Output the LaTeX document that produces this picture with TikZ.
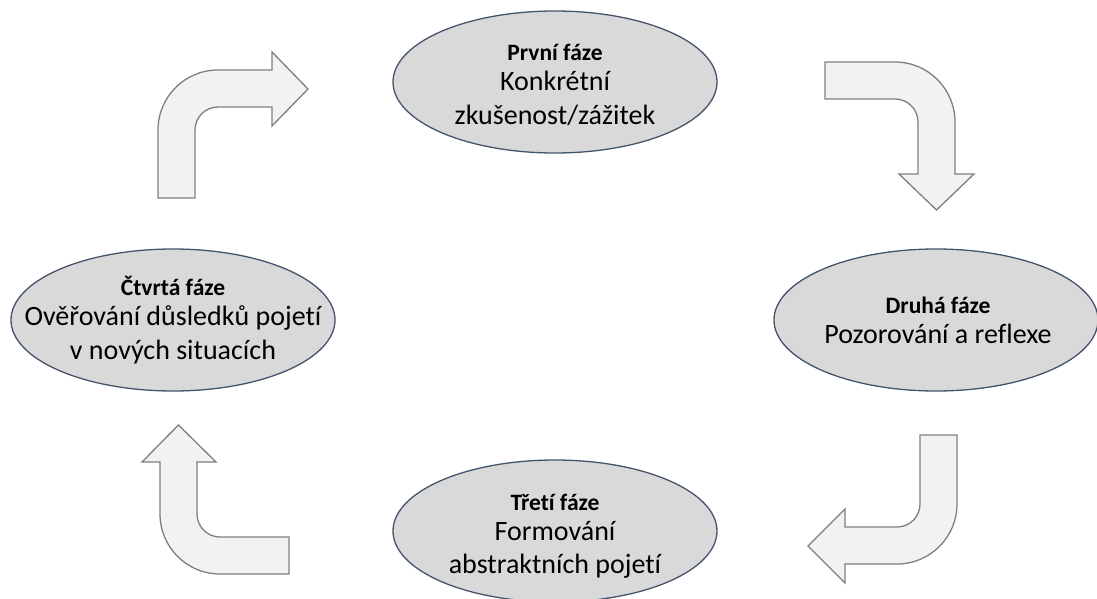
\documentclass[tikz,border=0pt]{standalone}
\usepackage{fontspec}
\setmainfont{Carlito}[Ligatures={NoCommon}]
\usetikzlibrary{shapes.geometric}
\definecolor{phasefill}{HTML}{D9D9D9}
\definecolor{phaseline}{HTML}{44546A}
\definecolor{arrowfill}{HTML}{F2F2F2}
\definecolor{arrowline}{HTML}{7F7F7F}
\newcommand{\phasetitle}[1]{{\fontsize{23.5}{28}\selectfont\bfseries #1}}
\begin{document}
\begin{tikzpicture}[x=1pt,y=1pt,yscale=-1,
  phase/.style={ellipse,draw=phaseline,fill=phasefill,line width=1.3pt,
    minimum width=324pt,minimum height=142pt,inner sep=0pt},
  phasetext/.style={align=center,inner sep=0pt,text=black,
    font=\fontsize{28}{33.5}\selectfont},
  bent/.style={draw=arrowline,fill=arrowfill,line width=1.3pt,line join=miter}]
\useasboundingbox (0,0) rectangle (1097,599);

% the four phases of the cycle
\node[phase] (p1) at (555,82) {};
\node[phasetext] (t1) at (555,85) {\phasetitle{První fáze}\\[-3.5pt]Konkrétní\\zkušenost/zážitek};

\node[phase] (p2) at (936,320) {};
\node[phasetext] (t2) at (938,320) {\phasetitle{Druhá fáze}\\[-3.5pt]Pozorování a reflexe};

\node[phase] (p3) at (555,531) {};
\node[phasetext] (t3) at (555,536) {\phasetitle{Třetí fáze}\\[-3.5pt]Formování\\abstraktních pojetí};

\node[phase] (p4) at (173,320) {};
\node[phasetext] (t4) at (173,320) {\phasetitle{Čtvrtá fáze}\\[-3.5pt]Ověřování důsledků pojetí\\v nových situacích};

% bent block arrows between the phases
% up, then right towards the first phase
\path[bent] (158,198) -- (158,130) arc[start angle=180,end angle=270,radius=60]
  -- (272,70) -- (272,52) -- (308,89) -- (272,126) -- (272,107)
  -- (218,107) arc[start angle=270,end angle=180,radius=23] -- (195,198) -- cycle;

% right, then down towards the second phase
\path[bent] (825,62) -- (895,62) arc[start angle=270,end angle=360,radius=60]
  -- (955,174) -- (974,174) -- (936.5,210) -- (899,174) -- (918,174)
  -- (918,122) arc[start angle=0,end angle=-90,radius=23] -- (825,99) -- cycle;

% down, then left towards the third phase
\path[bent] (920,435) -- (957,435) -- (957,504) arc[start angle=0,end angle=90,radius=60]
  -- (845,564) -- (845,583) -- (808,546) -- (845,509) -- (845,527)
  -- (897,527) arc[start angle=90,end angle=0,radius=23] -- cycle;

% left, then up towards the fourth phase
\path[bent] (289,537) -- (220,537) arc[start angle=90,end angle=180,radius=23]
  -- (197,462) -- (216,462) -- (178.5,425) -- (142,462) -- (160,462)
  -- (160,514) arc[start angle=180,end angle=90,radius=60] -- (289,574) -- cycle;
\end{tikzpicture}
\end{document}
